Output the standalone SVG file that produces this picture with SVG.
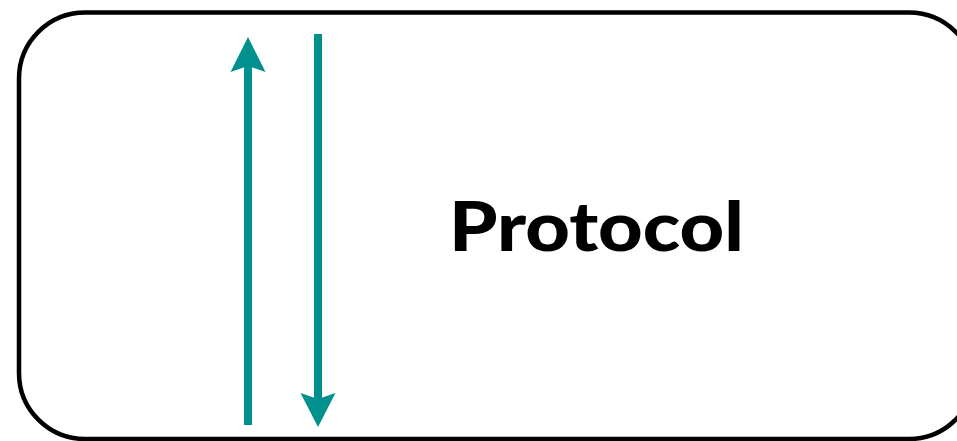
<svg xmlns="http://www.w3.org/2000/svg" width="957" height="441" viewBox="0 0 957 441">
<style>
.box{fill:#fff;stroke:#000;stroke-width:4.5}
.shaft{stroke:#00918E;stroke-width:8;fill:none}
.head{fill:#00918E}
.lbl{font-family:Lato,"Open Sans","Liberation Sans",sans-serif;font-weight:900;font-size:69px;fill:#000}
</style>
<rect width="957" height="441" fill="#fff"/>
<g id="protocol">
<rect class="box" x="19" y="12.5" width="956" height="426.5" rx="66" ry="66"/>
<text class="lbl" x="449" y="251" textLength="295" lengthAdjust="spacingAndGlyphs">Protocol</text>
</g>
<g id="connectors">
<line class="shaft" x1="248" y1="425" x2="248" y2="62"/>
<path class="head" d="M248,37 L265.5,72 L248,66 L230.5,72 Z"/>
<line class="shaft" x1="318" y1="34" x2="318" y2="400"/>
<path class="head" d="M318,427 L335.5,393 L318,399 L300.5,393 Z"/>
</g>
</svg>
